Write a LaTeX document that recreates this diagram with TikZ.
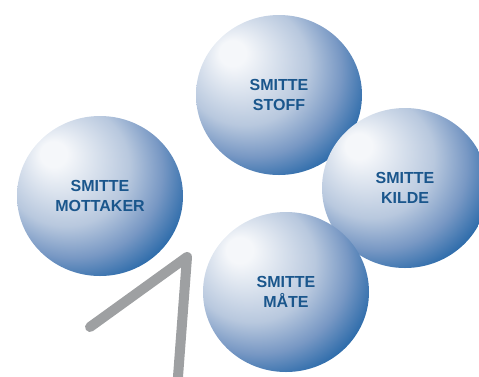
\documentclass[tikz,border=0pt]{standalone}
\usepackage{fontspec}
\setmainfont{Liberation Sans}
\usepackage{xcolor}
\usepackage{tikz}
\usetikzlibrary{shapes.geometric}
\definecolor{orbhi}{RGB}{245,247,250}
\definecolor{orblight}{RGB}{184,200,222}
\definecolor{orbmid}{RGB}{120,152,196}
\definecolor{orbblue}{RGB}{44,107,170}
\definecolor{orbtext}{RGB}{26,86,140}
\definecolor{hookgrey}{RGB}{158,160,162}
\pgfdeclareradialshading{orbshade}{\pgfpoint{-15bp}{14bp}}{color(0bp)=(orbhi); color(4bp)=(orbhi); color(19bp)=(orblight); color(27bp)=(orbmid); color(34bp)=(orbblue); color(60bp)=(orbblue)}
\tikzset{
  orb/.style={ellipse, shading=orbshade, minimum width=166pt, minimum height=160pt, inner sep=0pt,
    align=center, text=orbtext, font=\fontsize{16}{20.5}\selectfont\bfseries},
  hookline/.style={draw=hookgrey, line width=10pt, line cap=round, line join=round}
}
\begin{document}
\begin{tikzpicture}[x=1pt, y=-1pt]
  \useasboundingbox (0,0) rectangle (479,376);
  \node[orb] (stoff) at (279,95) {SMITTE\\STOFF};
  \node[orb] (mottaker) at (100,196) {SMITTE\\MOTTAKER};
  \node[orb] (kilde) at (405,188) {SMITTE\\KILDE};
  \node[orb] (maate) at (286,292) {SMITTE\\MÅTE};
  \coordinate (hookend) at (90,327);
  \coordinate (hooktop) at (187,257);
  \coordinate (hookfoot) at (177,390);
  \draw[hookline] (hookend) -- (hooktop) -- (hookfoot);
\end{tikzpicture}
\end{document}
